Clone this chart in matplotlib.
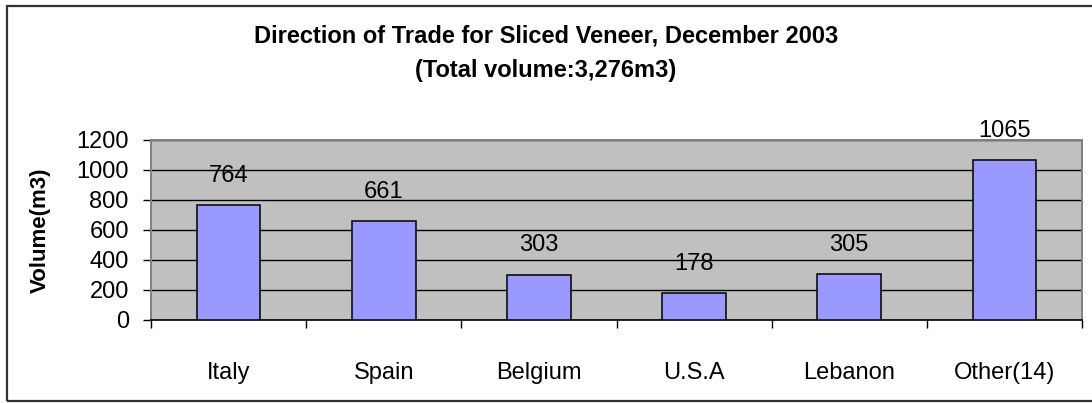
import matplotlib
matplotlib.use("Agg")
import matplotlib.pyplot as plt
from matplotlib.patches import Rectangle
import numpy as np

# ── data ──────────────────────────────────────────────────────────────────────
countries = ["Italy", "Spain", "Belgium", "U.S.A", "Lebanon", "Other(14)"]
volumes   = [764, 661, 303, 178, 305, 1065]
y_ticks   = [0, 200, 400, 600, 800, 1000, 1200]

TITLE    = "Direction of Trade for Sliced Veneer, December 2003"
SUBTITLE = "(Total volume:3,276m3)"

plt.rcParams["font.family"] = ["Liberation Sans", "DejaVu Sans"]

W, H = 1092, 403
fig = plt.figure(figsize=(W / 100, H / 100), dpi=100)
ax = fig.add_axes([151 / W, 1 - 320 / H, (1082 - 151) / W, (320 - 140) / H])

ax.set_facecolor("#C0C0C0")
x = np.arange(len(countries))
ax.bar(x, volumes, width=0.41, color="#9999FF", edgecolor="black",
       linewidth=1.1, zorder=3)

for xi, v in zip(x, volumes):
    ax.annotate(str(v), (xi, v), xytext=(0, 13), textcoords="offset points",
                ha="center", va="bottom", fontsize=17, zorder=4,
                annotation_clip=False)

ax.set_xlim(-0.5, len(countries) - 0.5)
ax.set_ylim(0, 1200)
ax.set_yticks(y_ticks)
ax.tick_params(axis="y", labelsize=17, length=6, width=1, pad=10, color="black")
ax.yaxis.grid(True, color="black", linewidth=1, zorder=1)

# category boundaries get tick marks, centres get labels
ax.set_xticks(np.arange(len(countries) + 1) - 0.5)
ax.set_xticklabels([])
ax.tick_params(axis="x", which="major", length=6, width=1, direction="out")
ax.set_xticks(x, minor=True)
ax.set_xticklabels(countries, minor=True)
ax.tick_params(axis="x", which="minor", length=0, labelsize=17, pad=30)

ax.set_ylabel("Volume(m3)", fontsize=16, fontweight="bold")
ax.yaxis.set_label_coords(-0.108, 0.5)

for side in ("left", "top", "right"):
    ax.spines[side].set_color("#808080")
    ax.spines[side].set_linewidth(1.4)
ax.spines["bottom"].set_color("black")
ax.spines["bottom"].set_linewidth(1.2)

fig.text(0.5, 1 - 36 / H, TITLE, ha="center", va="center",
         fontsize=17, fontweight="bold")
fig.text(0.5, 1 - 71 / H, SUBTITLE, ha="center", va="center",
         fontsize=17, fontweight="bold")

# outer chart border (open on the right, as in the source)
fig.add_artist(Rectangle((7 / W, 1 - 401 / H), 1.2, (401 - 6) / H,
                         transform=fig.transFigure, fill=False,
                         edgecolor="#333333", linewidth=1.6, clip_on=False))

fig.savefig("out.png", dpi=100)
